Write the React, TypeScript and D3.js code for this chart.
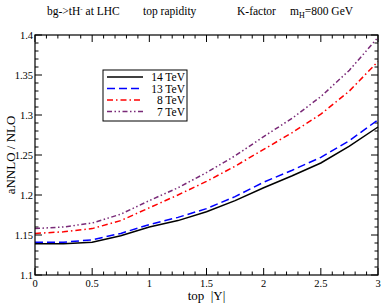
import * as d3 from 'd3';

const rapidity = [0, 0.25, 0.5, 0.75, 1, 1.25, 1.5, 1.75, 2, 2.25, 2.5, 2.75, 3];
const k14 = [1.139, 1.139, 1.141, 1.149, 1.16, 1.168, 1.179, 1.193, 1.209, 1.224, 1.24, 1.261, 1.285];
const k13 = [1.141, 1.141, 1.144, 1.152, 1.163, 1.172, 1.183, 1.198, 1.216, 1.231, 1.247, 1.268, 1.294];
const k8 = [1.152, 1.154, 1.158, 1.168, 1.184, 1.2, 1.217, 1.236, 1.257, 1.278, 1.301, 1.33, 1.367];
const k7 = [1.158, 1.16, 1.165, 1.176, 1.193, 1.209, 1.228, 1.249, 1.273, 1.296, 1.323, 1.356, 1.397];

const xTicks = [0, 0.5, 1, 1.5, 2, 2.5, 3];
const yTicks = [1.1, 1.15, 1.2, 1.25, 1.3, 1.35, 1.4];

const series = [
  { label: '14 TeV', values: k14, color: '#000000', dash: '' },
  { label: '13 TeV', values: k13, color: '#0000ff', dash: '8,4' },
  { label: '8 TeV', values: k8, color: '#ff0000', dash: '6,3,1.5,3' },
  { label: '7 TeV', values: k7, color: '#7a2a78', dash: '5,2.5,1.5,2.5,1.5,2.5' },
];

const W = 382;
const H = 305;
const margin = { top: 35, right: 4, bottom: 30, left: 35 };
const font = "'Liberation Serif', 'Times New Roman', serif";

export default function App() {
  const x = d3.scaleLinear().domain([0, 3]).range([margin.left, W - margin.right]);
  const y = d3.scaleLinear().domain([1.1, 1.4]).range([H - margin.bottom, margin.top]);
  const line = d3
    .line<number>()
    .x((_, i) => x(rapidity[i]))
    .y((d) => y(d));

  const x0 = x.range()[0];
  const x1 = x.range()[1];
  const y0 = y.range()[0];
  const y1 = y.range()[1];

  // minor ticks every 0.1 in x, 0.01 in y
  const xMinor = d3.range(0, 31).map((i) => i / 10).filter((v) => !xTicks.some((t) => Math.abs(t - v) < 1e-6));
  const yMinor = d3.range(110, 141).map((i) => i / 100).filter((v) => !yTicks.some((t) => Math.abs(t - v) < 1e-6));

  const major = 7;
  const minor = 3.5;

  return (
    <svg width={W} height={H} style={{ position: 'absolute', left: 0, top: 0, background: '#fff' }} fontFamily={font}>
      <text x={47} y={15} fontSize={11.5}>
        bg-&gt;tH<tspan dy={-4} fontSize={7}>-</tspan>
        <tspan dy={4}> at LHC</tspan>
      </text>
      <text x={143} y={15} fontSize={11.5}>top rapidity</text>
      <text x={237} y={15} fontSize={11.5}>K-factor</text>
      <text x={290} y={15} fontSize={11.5}>
        m<tspan dy={3} fontSize={8}>H</tspan>
        <tspan dy={-3}>=800 GeV</tspan>
      </text>

      <g stroke="#000" strokeWidth={1}>
        {xTicks.map((t) => (
          <g key={'xt' + t}>
            <line x1={x(t)} x2={x(t)} y1={y0} y2={y0 - major} />
            <line x1={x(t)} x2={x(t)} y1={y1} y2={y1 + major} />
          </g>
        ))}
        {xMinor.map((t) => (
          <g key={'xm' + t}>
            <line x1={x(t)} x2={x(t)} y1={y0} y2={y0 - minor} />
            <line x1={x(t)} x2={x(t)} y1={y1} y2={y1 + minor} />
          </g>
        ))}
        {yTicks.map((t) => (
          <g key={'yt' + t}>
            <line x1={x0} x2={x0 + major} y1={y(t)} y2={y(t)} />
            <line x1={x1} x2={x1 - major} y1={y(t)} y2={y(t)} />
          </g>
        ))}
        {yMinor.map((t) => (
          <g key={'ym' + t}>
            <line x1={x0} x2={x0 + minor} y1={y(t)} y2={y(t)} />
            <line x1={x1} x2={x1 - minor} y1={y(t)} y2={y(t)} />
          </g>
        ))}
      </g>

      {series.map((s) => (
        <path
          key={s.label}
          d={line(s.values) || ''}
          fill="none"
          stroke={s.color}
          strokeWidth={1.5}
          strokeDasharray={s.dash || undefined}
        />
      ))}

      <rect x={x0} y={y1} width={x1 - x0} height={y0 - y1} fill="none" stroke="#000" strokeWidth={1.2} />

      {xTicks.map((t) => (
        <text key={'xl' + t} x={x(t)} y={y0 + 12} fontSize={10.5} textAnchor="middle">
          {d3.format('~g')(t)}
        </text>
      ))}
      {yTicks.map((t) => (
        <text key={'yl' + t} x={x0 - 2} y={y(t) + 3.5} fontSize={10.5} textAnchor="end">
          {d3.format('~g')(t)}
        </text>
      ))}

      <text x={(x0 + x1) / 2} y={H - 5} fontSize={13} textAnchor="middle" style={{ whiteSpace: 'pre' }}>
        {'top  |Y|'}
      </text>
      <text transform={`translate(15, ${(y0 + y1) / 2}) rotate(-90)`} fontSize={13} textAnchor="middle">
        aNNLO / NLO
      </text>

      <rect x={103} y={70} width={84} height={51} fill="#fff" stroke="#000" strokeWidth={1} />
      {series.map((s, i) => (
        <g key={'lg' + s.label} transform={`translate(0, ${77 + i * 11.5})`}>
          <line x1={107} x2={143} y1={0} y2={0} stroke={s.color} strokeWidth={1.5} strokeDasharray={s.dash || undefined} />
          <text x={185} y={4} fontSize={11.5} textAnchor="end">{s.label}</text>
        </g>
      ))}
    </svg>
  );
}
